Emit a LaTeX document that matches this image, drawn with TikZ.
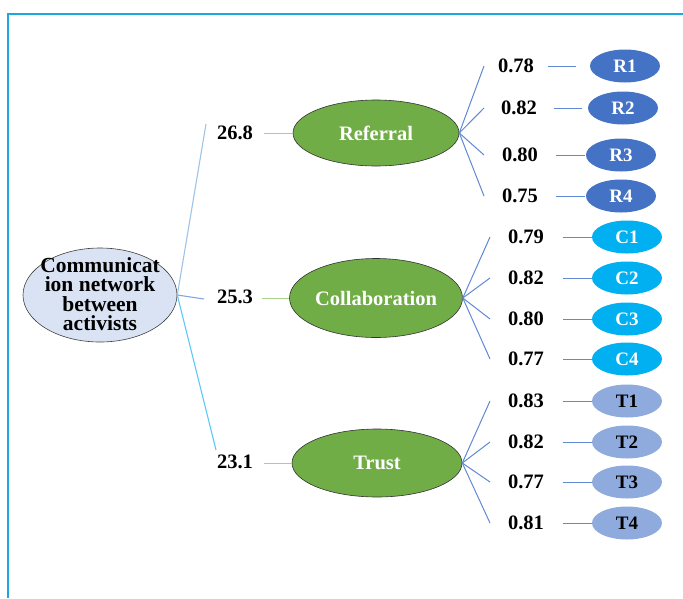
\documentclass[tikz,border=0pt]{standalone}
\usepackage{fontspec}
\setmainfont{Liberation Serif}
\usetikzlibrary{shapes.geometric}
\definecolor{framec}{RGB}{28,168,222}
\definecolor{commfill}{RGB}{218,227,243}
\definecolor{upline}{RGB}{157,195,230}
\definecolor{midline}{RGB}{130,168,225}
\definecolor{lowline}{RGB}{91,200,245}
\definecolor{gline}{RGB}{169,209,142}
\definecolor{gfill}{RGB}{112,173,71}
\definecolor{fanc}{RGB}{96,136,212}
\definecolor{rfill}{RGB}{68,114,196}
\definecolor{cfill}{RGB}{0,176,240}
\definecolor{tfill}{RGB}{143,170,220}
\tikzset{
  every node/.style={font=\fontsize{20.5}{22}\selectfont\bfseries},
  lab/.style={inner sep=0pt, anchor=center},
  factor/.style={ellipse, draw=black!80, fill=gfill, text=white, inner sep=0pt, line width=0.6pt},
  item/.style={ellipse, draw=none, inner sep=0pt, minimum width=70pt, minimum height=33pt, font=\fontsize{19}{20}\selectfont\bfseries},
  ritem/.style={item, fill=rfill, text=white},
  citem/.style={item, fill=cfill, text=white},
  titem/.style={item, fill=tfill, text=black},
  fan/.style={draw=fanc, line width=1pt},
  gl/.style={draw=gline, line width=1pt},
}
\begin{document}
\begin{tikzpicture}[x=1pt,y=-1pt]
\useasboundingbox (0,0) rectangle (683,598);
% frame
\draw[framec, line width=1.2pt] (8,598) -- (8,14) -- (683,14);
% central node
\node[ellipse, draw=black!75, fill=commfill, line width=0.6pt, minimum width=154pt, minimum height=94pt, inner sep=0pt] (comm) at (100,295) {};
\node[inner sep=0pt, align=center, font=\fontsize{21.5}{19.5}\selectfont\bfseries] (commtxt) at (100,294) {Communicat\\ion network\\between\\activists};
% factor labels & coordinates
\coordinate (u1) at (206,124);
\coordinate (u2) at (204,299);
\coordinate (u3) at (216,450);
\draw[upline, line width=1.1pt] (comm.east) -- (u1);
\draw[midline, line width=1.1pt] (comm.east) -- (u2);
\draw[lowline, line width=1.1pt] (comm.east) -- (u3);
\node[lab] (l1) at (235,133) {26.8};
\node[lab] (l2) at (235,297) {25.3};
\node[lab] (l3) at (235,462) {23.1};
% factor ellipses
\node[factor, minimum width=166pt, minimum height=66pt] (ref) at (376,133) {Referral};
\node[factor, minimum width=173pt, minimum height=79pt] (col) at (376,298) {Collaboration};
\node[factor, minimum width=170pt, minimum height=68pt] (tru) at (377,463) {Trust};
\coordinate (g1) at (264,133);
\coordinate (g2) at (262,298);
\coordinate (g3) at (264,463);
\draw[gl] (g1) -- (ref.west);
\draw[gl] (g2) -- (col.west);
\draw[gl] (g3) -- (tru.west);
% Referral fan
\foreach \i/\y/\v/\lx/\sa/\sb/\ex in {1/66/0.78/516/548/576/625, 2/108/0.82/519/554/582/623, 3/155/0.80/520/556/585/621, 4/196/0.75/520/556/585/621}{
  \coordinate (ra\i) at (484,\y);
  \draw[fan] (ref.east) -- (ra\i);
  \node[lab] (rl\i) at (\lx,\y) {\v};
  \node[ritem] (R\i) at (\ex,\y) {R\i};
  \coordinate (rs\i) at (\sa,\y);
  \coordinate (re\i) at (\sb,\y);
  \draw[fan] (rs\i) -- (re\i);
}
% Collaboration fan
\foreach \i/\y/\v in {1/237/0.79, 2/278/0.82, 3/319/0.80, 4/359/0.77}{
  \coordinate (ca\i) at (490,\y);
  \draw[fan] (col.east) -- (ca\i);
  \node[lab] (cl\i) at (526,\y) {\v};
  \node[citem] (C\i) at (627,\y) {C\i};
  \coordinate (cs\i) at (563,\y);
  \draw[fan] (cs\i) -- (C\i.west);
}
% Trust fan
\foreach \i/\y/\v in {1/401/0.83, 2/442/0.82, 3/482/0.77, 4/523/0.81}{
  \coordinate (ta\i) at (490,\y);
  \draw[fan] (tru.east) -- (ta\i);
  \node[lab] (tl\i) at (526,\y) {\v};
  \node[titem] (T\i) at (627,\y) {T\i};
  \coordinate (ts\i) at (563,\y);
  \draw[fan] (ts\i) -- (T\i.west);
}
\end{tikzpicture}
\end{document}
